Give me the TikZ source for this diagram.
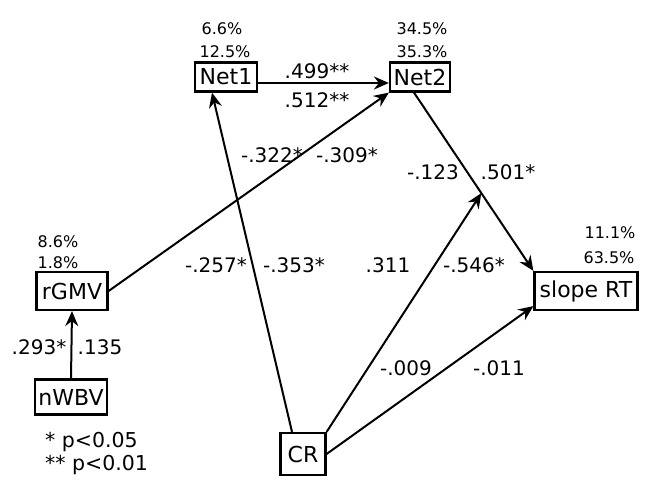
\documentclass[tikz,border=0pt]{standalone}
\usepackage{fontspec}
\setmainfont{DejaVu Sans}
\usetikzlibrary{arrows.meta,calc}
\begin{document}
\begin{tikzpicture}[x=1pt,y=-1pt,
  var/.style={draw,line width=2.2pt,inner sep=0pt,font=\fontsize{22}{26}\selectfont},
  coef/.style={inner sep=0pt,font=\fontsize{20}{24}\selectfont},
  pct/.style={inner sep=0pt,font=\fontsize{16}{19}\selectfont},
  note/.style={inner sep=0pt,anchor=west,font=\fontsize{20.5}{24}\selectfont},
  path/.style={line width=2pt,-{Stealth[length=15pt,width=13pt,inset=5pt]}}]
\useasboundingbox (0,0) rectangle (648,482);

% variables
\node[var,minimum width=62,minimum height=29] (net1) at (226,77) {Net1};
\node[var,minimum width=60,minimum height=29] (net2) at (420,77) {Net2};
\node[var,minimum width=71,minimum height=38] (rgmv) at (72,291) {rGMV};
\node[var,minimum width=72,minimum height=35] (nwbv) at (71,397) {nWBV};
\node[var,minimum width=45,minimum height=42] (cr) at (303,454) {CR};
\node[var,minimum width=103,minimum height=38] (slope) at (586,291) {slope RT};

% explained variance
\node[pct] (p1a) at (222,29) {6.6\%};
\node[pct] (p1b) at (225,52) {12.5\%};
\node[pct] (p2a) at (422,29) {34.5\%};
\node[pct] (p2b) at (422,52) {35.3\%};
\node[pct] (p3a) at (58,242) {8.6\%};
\node[pct] (p3b) at (58,263) {1.8\%};
\node[pct] (p4a) at (610,233) {11.1\%};
\node[pct] (p4b) at (609,258) {63.5\%};

% paths
\draw[path] ([yshift=-6pt]net1.east) -- ([yshift=-6pt]net2.west);
\draw[path] (nwbv.north) -- (rgmv.south);
\draw[path] (rgmv.east) -- (net2.south west);
\draw[path] ([xshift=-11pt]cr.north) -- ([xshift=-14pt]net1.south);
\draw[path] ([xshift=-6pt]net2.south) -- (slope.north west);
\coordinate (mod) at ($([xshift=-6pt]net2.south)!0.564!(slope.north west)$);
\draw[path] (cr.north east) -- (mod);
\draw[path] (cr.east) -- ([yshift=5pt]slope.south west);

% path coefficients
\node[coef] (c1) at (317,71) {.499**};
\node[coef] (c2) at (317,100) {.512**};
\node[coef] (c3) at (272,155) {-.322*};
\node[coef] (c4) at (347,155) {-.309*};
\node[coef] (c5) at (433,172) {-.123};
\node[coef] (c6) at (508,172) {.501*};
\node[coef] (c7) at (216,265) {-.257*};
\node[coef] (c8) at (294,265) {-.353*};
\node[coef] (c9) at (388,265) {.311};
\node[coef] (c10) at (474,265) {-.546*};
\node[coef] (c11) at (406,368) {-.009};
\node[coef] (c12) at (499,368) {-.011};
\node[coef] (c13) at (39,347) {.293*};
\node[coef] (c14) at (100,347) {.135};

% significance legend
\node[note] (n1) at (45,442) {* p<0.05};
\node[note] (n2) at (45,465) {** p<0.01};
\end{tikzpicture}
\end{document}
